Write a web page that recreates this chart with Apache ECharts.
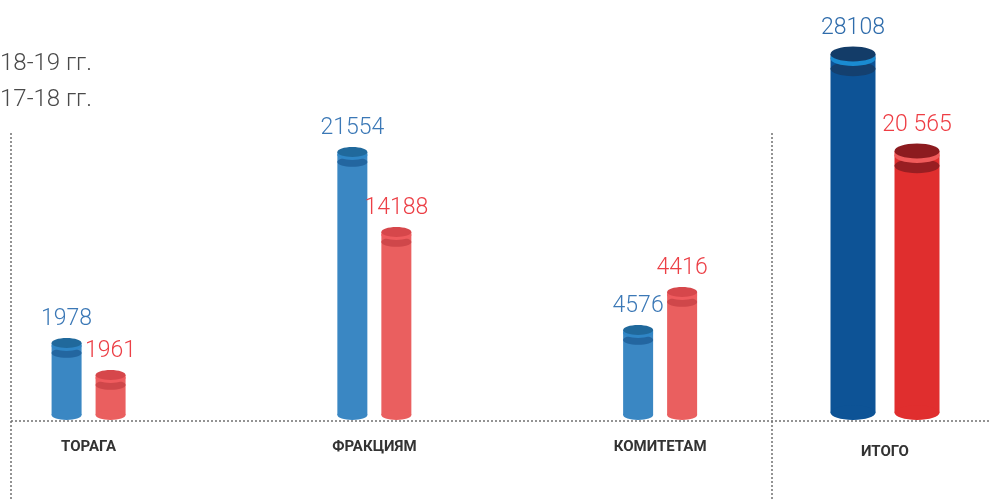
<!DOCTYPE html>
<html>
<head>
<meta charset="utf-8">
<title>Поправки</title>
<script src="https://cdn.jsdelivr.net/npm/echarts@6/dist/echarts.min.js"></script>
<style>
    html, body { margin: 0; padding: 0; background: #fff; }
    #main { width: 990px; height: 499px; }
</style>
</head>
<body>
<div id="main"></div>
<script>
// категории: первые три в одной сетке, итог отдельно
var categories = ['ТОРАГА', 'ФРАКЦИЯМ', 'КОМИТЕТАМ'];
var totalCategory = ['ИТОГО'];

var seriesNames = ['18-19 гг.', '17-18 гг.'];

// числа, подписанные над столбиками
var blueValues = [1978, 21554, 4576, 28108];
var redValues = [1961, 14188, 4416, 20565];
var blueLabels = ['1978', '21554', '4576', '28108'];
var redLabels = ['1961', '14188', '4416', '20 565'];

// высота нарисованных цилиндров (инфографика не в масштабе), в единицах оси
var blueHeights = [6240, 21520, 7280, 29360];
var redHeights = [3680, 15120, 10320, 21600];

var yMax = 32000;

var palBlue = { body: '#3a87c3', cap: '#20699c', ring: '#2f86c6', shade: '#2366a0', label: '#3b78b6' };
var palRed = { body: '#ea5f5f', cap: '#d6474b', ring: '#ef5b5e', shade: '#cf474a', label: '#ec3f46' };
var palBlueTotal = { body: '#0d5396', cap: '#133c68', ring: '#1a8bd1', shade: '#14406f', label: '#2f6cab' };
var palRedTotal = { body: '#e02e2e', cap: '#8c1b1f', ring: '#f05b5b', shade: '#981e22', label: '#ee3d44' };

function cylinder(offset, width, pal, labels, first) {
    return function (params, api) {
        var idx = api.value(0);
        var base = api.coord([idx, 0]);
        var top = api.coord([idx, api.value(1)]);
        var cx = base[0] + offset;
        var rx = width / 2, ry = width * 0.165;
        var yb = base[1] - ry - 1;
        var yt = top[1];
        return {
            type: 'group',
            children: [
                { type: 'rect', shape: { x: cx - rx, y: yt, width: width, height: yb - yt }, style: { fill: pal.body } },
                { type: 'ellipse', shape: { cx: cx, cy: yb, rx: rx, ry: ry }, style: { fill: pal.body } },
                { type: 'ellipse', shape: { cx: cx, cy: yt + ry * 2, rx: rx, ry: ry }, style: { fill: pal.shade } },
                { type: 'ellipse', shape: { cx: cx, cy: yt + ry * 0.6, rx: rx, ry: ry }, style: { fill: pal.ring } },
                { type: 'ellipse', shape: { cx: cx, cy: yt, rx: rx, ry: ry }, style: { fill: pal.cap } },
                {
                    type: 'text',
                    style: {
                        text: labels[first + params.dataIndex],
                        x: cx, y: yt - ry - 7,
                        align: 'center', verticalAlign: 'bottom',
                        fill: pal.label,
                        fontSize: 23, fontWeight: 300, fontFamily: 'Roboto'
                    }
                }
            ]
        };
    };
}

function rows(heights, values, from, to) {
    var out = [];
    for (var i = from; i < to; i++) {
        out.push([i - from, heights[i], values[i]]);
    }
    return out;
}

var myChart = echarts.init(document.getElementById('main'));

var dotted = { stroke: '#707070', lineWidth: 1.5, lineDash: [2, 2] };
var catLabel = { fontSize: 15, fontWeight: 'bold', fontFamily: 'Roboto', color: '#333' };

option = {
    animation: false,
    legend: {
        orient: 'vertical',
        left: -30,
        top: 44,
        itemWidth: 20,
        itemHeight: 14,
        itemGap: 6,
        selectedMode: false,
        data: seriesNames,
        textStyle: { fontSize: 24, fontWeight: 300, fontFamily: 'Roboto', color: '#4a4a4a', lineHeight: 30 }
    },
    grid: [
        { left: 0, right: 187, top: 21, bottom: 78 },
        { left: 780, right: 0, top: 21, bottom: 78 }
    ],
    xAxis: [
        {
            // категории стоят на 0, 1, 2, поле слева уже, чем справа
            gridIndex: 0, type: 'value', min: -0.31, max: 2.5,
            splitLine: { show: false }, axisLine: { show: false }, axisTick: { show: false },
            axisLabel: Object.assign({
                margin: 19,
                customValues: [0, 1, 2],
                formatter: function (v) { return categories[Math.round(v)]; }
            }, catLabel)
        },
        {
            gridIndex: 1, type: 'category', data: totalCategory,
            axisLine: { show: false }, axisTick: { show: false },
            axisLabel: Object.assign({ margin: 24 }, catLabel)
        }
    ],
    yAxis: [
        { gridIndex: 0, type: 'value', min: 0, max: yMax, show: false },
        { gridIndex: 1, type: 'value', min: 0, max: yMax, show: false }
    ],
    // пунктирные разделители
    graphic: [
        { type: 'line', shape: { x1: 11, y1: 421, x2: 990, y2: 421 }, style: dotted, silent: true },
        { type: 'line', shape: { x1: 11, y1: 133, x2: 11, y2: 499 }, style: dotted, silent: true },
        { type: 'line', shape: { x1: 772, y1: 133, x2: 772, y2: 499 }, style: dotted, silent: true }
    ],
    series: [
        {
            name: seriesNames[0], type: 'custom', xAxisIndex: 0, yAxisIndex: 0,
            itemStyle: { color: palBlue.body },
            renderItem: cylinder(-22, 30, palBlue, blueLabels, 0),
            data: rows(blueHeights, blueValues, 0, 3)
        },
        {
            name: seriesNames[1], type: 'custom', xAxisIndex: 0, yAxisIndex: 0,
            itemStyle: { color: palRed.body },
            renderItem: cylinder(22, 30, palRed, redLabels, 0),
            data: rows(redHeights, redValues, 0, 3)
        },
        {
            name: seriesNames[0], type: 'custom', xAxisIndex: 1, yAxisIndex: 1,
            itemStyle: { color: palBlueTotal.body },
            renderItem: cylinder(-32, 45, palBlueTotal, blueLabels, 3),
            data: rows(blueHeights, blueValues, 3, 4)
        },
        {
            name: seriesNames[1], type: 'custom', xAxisIndex: 1, yAxisIndex: 1,
            itemStyle: { color: palRedTotal.body },
            renderItem: cylinder(32, 45, palRedTotal, redLabels, 3),
            data: rows(redHeights, redValues, 3, 4)
        }
    ]
};
myChart.setOption(option);
</script>
</body>
</html>
